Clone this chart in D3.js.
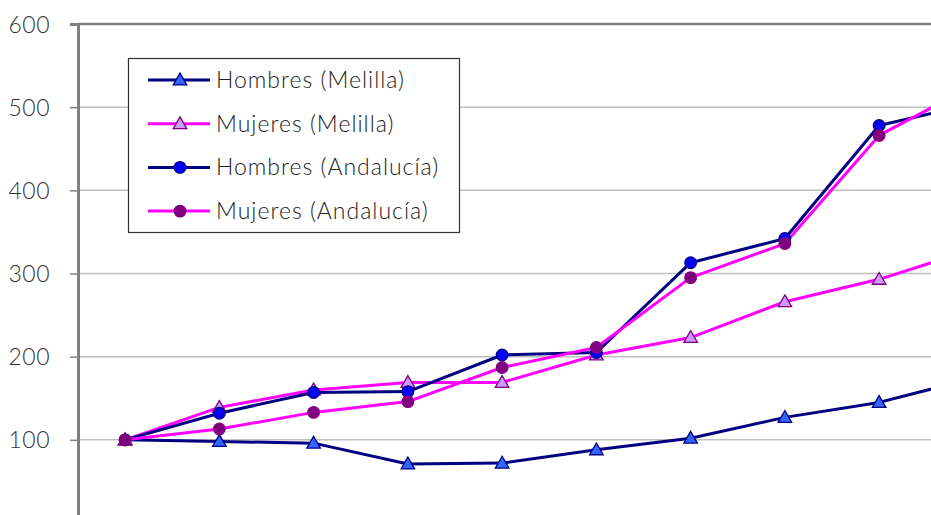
<!DOCTYPE html>
<html><head><meta charset="utf-8">
<script src="https://cdn.jsdelivr.net/npm/d3@7"></script>
<style>
html,body{margin:0;padding:0;background:#fff;overflow:hidden}
text{font-family:"Lato","Noto Sans",sans-serif;font-weight:300}
</style></head>
<body>
<svg id="c" width="931" height="515"></svg>
<script>
// Data (index base 100); 10th point lies beyond the visible right edge
const categories = ["1","2","3","4","5","6","7","8","9","10"];
const hombresMelilla   = [100, 98, 96, 71, 72, 88, 102, 127, 145, 174];
const mujeresMelilla   = [100, 139, 160, 169, 169, 202, 223, 266, 293, 329];
const hombresAndalucia = [100, 132, 157, 158, 202, 205, 313, 342, 478, 504];
const mujeresAndalucia = [100, 113, 133, 146, 187, 211, 295, 336, 466, 526];
const yTicks = [0, 100, 200, 300, 400, 500, 600];

const series = [
  {name:"Hombres (Melilla)",   values:hombresMelilla,   line:"#000080", shape:"tri", fill:"#3366FF", stroke:"#000080"},
  {name:"Mujeres (Melilla)",   values:mujeresMelilla,   line:"#FF00FF", shape:"tri", fill:"#CC99FF", stroke:"#800080"},
  {name:"Hombres (Andalucía)", values:hombresAndalucia, line:"#000080", shape:"circ", fill:"#0000FF", stroke:"#000080"},
  {name:"Mujeres (Andalucía)", values:mujeresAndalucia, line:"#FF00FF", shape:"circ", fill:"#800080", stroke:"#800080"}
];

const svg = d3.select("#c");
const plotLeft = 78, plotTop = 24;
const x = d3.scaleBand().domain(categories).range([plotLeft, plotLeft + 94.25*categories.length]).padding(0);
const y = d3.scaleLinear().domain([0, 600]).range([523, plotTop]);
const cx = c => x(c) + x.bandwidth()/2;

// gridlines
svg.append("g").selectAll("line").data(yTicks.filter(t => t>0 && t<600)).join("line")
  .attr("x1", plotLeft).attr("x2", 931).attr("y1", d=>y(d)).attr("y2", d=>y(d))
  .attr("stroke", "#c0c0c0").attr("stroke-width", 1.5);
// top border
svg.append("line").attr("x1", plotLeft).attr("x2", 931).attr("y1", y(600)).attr("y2", y(600))
  .attr("stroke", "#808080").attr("stroke-width", 2.5);

// y axis
const ax = svg.append("g").attr("transform", `translate(${plotLeft},0)`)
  .call(d3.axisLeft(y).tickValues(yTicks).tickSize(8).tickPadding(20).tickFormat(d3.format("d")));
ax.select(".domain").attr("stroke", "#808080").attr("stroke-width", 3);
ax.selectAll(".tick line").attr("stroke", "#808080").attr("stroke-width", 1.5);
ax.selectAll(".tick text").attr("fill", "#333").style("font-size", "23px")
  .style("letter-spacing", "0.5px").attr("dy", "0.35em");

// lines
const plot = svg.append("g");
const line = d3.line().x((d,i)=>cx(categories[i])).y(d=>y(d));
series.forEach(s => {
  plot.append("path").datum(s.values).attr("d", line).attr("fill","none")
    .attr("stroke", s.line).attr("stroke-width", 3).attr("stroke-linejoin","round");
});
const triPath = d3.symbol().type(d3.symbolTriangle).size(80);
function marker(g, s, px, py){
  if (s.shape === "tri") {
    g.append("path").attr("d", triPath()).attr("transform", `translate(${px},${py+1})`)
      .attr("fill", s.fill).attr("stroke", s.stroke).attr("stroke-width", 1.3);
  } else {
    g.append("circle").attr("cx", px).attr("cy", py).attr("r", 5.8)
      .attr("fill", s.fill).attr("stroke", s.stroke).attr("stroke-width", 1.3);
  }
}
series.forEach(s => {
  s.values.forEach((v,i) => marker(plot, s, cx(categories[i]), y(v)));
});

// legend
const lg = svg.append("g");
lg.append("rect").attr("x", 128.5).attr("y", 58.5).attr("width", 331).attr("height", 174)
  .attr("fill", "#fff").attr("stroke", "#333").attr("stroke-width", 1.2);
series.forEach((s,i) => {
  const ly = 80 + i*43.7;
  lg.append("line").attr("x1", 148).attr("x2", 210).attr("y1", ly).attr("y2", ly)
    .attr("stroke", s.line).attr("stroke-width", 3);
  marker(lg, s, 180, ly);
  lg.append("text").attr("x", 216).attr("y", ly).attr("dy", "0.35em")
    .attr("fill", "#222").style("font-size", "23px").style("letter-spacing", "1px").text(s.name);
});
</script>
</body></html>
